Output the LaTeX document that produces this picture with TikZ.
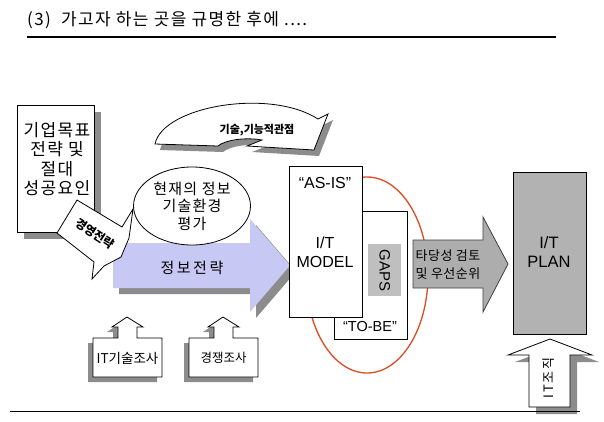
\documentclass[tikz,border=0pt]{standalone}
\usepackage{fontspec}
\setmainfont{Noto Sans CJK KR}
\newfontfamily\latinf{Liberation Sans}
\usetikzlibrary{shapes.geometric}
\definecolor{lavender}{RGB}{200,200,245}
\definecolor{shadowgray}{RGB}{140,140,140}
\definecolor{ringred}{RGB}{220,75,35}
\newcommand{\fsz}[2]{\fontsize{#1pt}{#2pt}\selectfont}
\newcommand{\wide}[1]{\addfontfeature{LetterSpace=#1}}
% paths used twice (shadow + shape)
\newcommand{\techpath}{(155,144) .. controls (163,106) and (270,88) .. (318,119) -- (328,114) -- (314,150) -- (247,146) -- (262,140) .. controls (245,137) and (225,140) .. (218,146) -- cycle}
\newcommand{\infopath}{(113,243) -- (250,243) -- (250,219) -- (290,265.5) -- (250,312) -- (250,288) -- (113,288) -- cycle}
\newcommand{\orgpath}{(550,339) -- (592,355) -- (570,355) -- (570,407) -- (529,407) -- (529,355) -- (508,355) -- cycle}
\newcommand{\surveypath}{(0,60) -- (0,21) -- (25,21) -- (25,10) -- (19,10) -- (34,0) -- (50,10) -- (44,10) -- (44,21) -- (69,21) -- (69,60) -- cycle}
\begin{document}
\begin{tikzpicture}[
  x=1pt, y=-1pt,
  box/.style={draw, fill=white, line width=0.8pt},
  shadow/.style={fill=shadowgray, draw=none},
  lbl/.style={inner sep=0pt, align=center}
]
  \useasboundingbox (0,0) rectangle (604,421);

  % title
  \node[lbl, anchor=west, font=\fsz{17}{20}\wide{8}] (title) at (27,20) {(3)\ \ 가고자 하는 곳을 규명한 후에 ....};
  \draw[line width=1.6pt] (27,37) -- (556,37);

  % technical viewpoint
  \fill[shadow, shift={(5,6)}] \techpath;
  \draw[box] \techpath;
  \node[lbl, font=\fsz{11}{13}\bfseries] (techview) at (257,130) {기술,기능적관점};

  % corporate goals
  \fill[shadow] (24,112) rectangle (101,239);
  \node[box, minimum width=77pt, minimum height=127pt, anchor=north west] (goal) at (17,105) {};
  \node[lbl, font=\fsz{17}{19.5}\wide{8}] (goaltext) at (57,159) {기업목표\\전략 및\\절대\\성공요인};

  % information strategy
  \fill[shadow, shift={(6,6)}] \infopath;
  \fill[lavender] \infopath;
  \node[lbl, font=\fsz{15}{18}] (infostrat) at (192,268) {정\,보\,전\,략};

  \node[ellipse, draw, fill=white, line width=0.8pt, minimum width=117pt, minimum height=78pt, inner sep=0pt, align=center, font=\fsz{15}{17.5}\wide{8}] (assess) at (192,206) {현재의 정보\\기술환경\\평가};

  % business strategy callout
  \draw[box] (77,200) -- (122,227) -- (133,209) -- (129,238) -- (121,257) -- (104,266) -- (92,279) -- (94,262) -- (57,233) -- cycle;
  \node[lbl, rotate=-33, font=\fsz{12}{14}\bfseries] (bizstrat) at (95,234) {경영전략};

  % AS-IS / TO-BE
  \node[ellipse, draw=ringred, line width=1.3pt, minimum width=122pt, minimum height=196pt] (gapring) at (367,275) {};
  \node[box, minimum width=73pt, minimum height=128pt, anchor=north west] (tobe) at (334,211) {};
  \node[fill=black!25, minimum width=33pt, minimum height=52pt, anchor=north west, inner sep=0pt] (gaps) at (368,244) {};
  \node[lbl, rotate=-90, font=\latinf\fsz{15}{17}] (gapstext) at (gaps) {GAPS};
  \node[box, minimum width=73pt, minimum height=151pt, anchor=north west] (asis) at (289,166) {};
  \node[lbl, font=\latinf\fsz{16}{18}] (asistext) at (325,183) {“AS-IS”};
  \node[lbl, font=\latinf\fsz{16}{19}] (model) at (325,252) {I/T\\MODEL};
  \node[lbl, font=\latinf\fsz{14.5}{16}] (tobetext) at (370,326) {“TO-BE”};

  % review arrow
  \draw[draw=black!75, fill=black!32, line width=0.8pt] (413,240) -- (483,240) -- (483,217) -- (508,264) -- (483,312) -- (483,288) -- (413,288) -- cycle;
  \node[lbl, font=\fsz{13}{18}\wide{4}] (review) at (448,265) {타당성 검토\\및 우선순위};

  % I/T plan
  \node[draw, fill=black!30, line width=0.8pt, minimum width=73pt, minimum height=162pt, anchor=north west] (plan) at (513,172) {};
  \node[lbl, font=\latinf\fsz{16.5}{19}] (plantext) at (549,252) {I/T\\PLAN};

  % IT organisation
  \fill[shadow, shift={(7,7)}] \orgpath;
  \draw[box] \orgpath;
  \node[lbl, rotate=90, font=\fsz{13}{15}\wide{12}] (org) at (549,378) {IT조직};

  % surveys
  \begin{scope}[shift={(93,317)}]
    \fill[shadow, shift={(-5,5)}] \surveypath;
    \draw[box] \surveypath;
    \node[lbl, font=\fsz{13.5}{15}] (itsurvey) at (34.5,41) {IT기술조사};
  \end{scope}
  \begin{scope}[shift={(189,317)}]
    \fill[shadow, shift={(-5,5)}] \surveypath;
    \draw[box] \surveypath;
    \node[lbl, font=\fsz{12.5}{14}] (compsurvey) at (34.5,41) {경쟁조사};
  \end{scope}

  \draw[line width=0.8pt] (10,411) -- (580,411);
\end{tikzpicture}
\end{document}
